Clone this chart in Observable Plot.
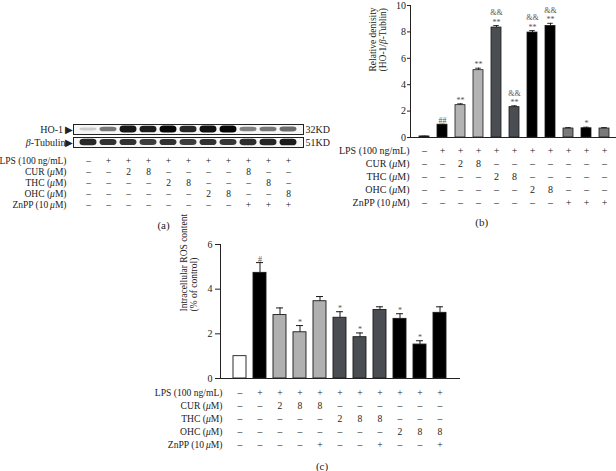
<!DOCTYPE html>
<html>
<head>
<meta charset="utf-8">
<script src="https://cdn.jsdelivr.net/npm/d3@7"></script>
<script src="https://cdn.jsdelivr.net/npm/@observablehq/plot@0.6"></script>
<style>
  html, body { margin: 0; padding: 0; background: #fff; }
  #fig { position: relative; width: 616px; height: 471px; overflow: hidden; background: #fff; font-family: "Liberation Serif", serif; }
  .cap { position: absolute; font-family: "Liberation Serif", serif; font-size: 11px; color: #222; transform: translate(-50%, -50%); }
</style>
</head>
<body>
<div id="fig"></div>
<script>
// ---------------- DATA ----------------
const lanes = [1, 2, 3, 4, 5, 6, 7, 8, 9, 10, 11];
const rowLabels = ["LPS (100 ng/mL)", "CUR (μM)", "THC (μM)", "OHC (μM)", "ZnPP (10\u2009μM)"];

// Panel (a): western blot
const blotRows = ["HO-1 ▶", "β-Tubulin▶"];
const blotKD = ["32KD", "51KD"];
const hoBand = [0.12, 0.5, 0.92, 0.9, 1.0, 0.85, 0.95, 1.0, 0.45, 0.5, 0.55];
const tubBand = [0.85, 0.8, 0.8, 0.75, 0.8, 0.75, 0.8, 0.78, 0.82, 0.85, 0.9];
const tableA = [
  ["–","+","+","+","+","+","+","+","+","+","+"],
  ["–","–","2","8","–","–","–","–","8","–","–"],
  ["–","–","–","–","2","8","–","–","–","8","–"],
  ["–","–","–","–","–","–","2","8","–","–","8"],
  ["–","–","–","–","–","–","–","–","+","+","+"]
];

// Panel (b): relative density HO-1/β-Tubulin
const densityB = [0.08, 0.97, 2.45, 5.1, 8.33, 2.3, 7.95, 8.45, 0.68, 0.7, 0.68];
const densityErrB = [0.02, 0.03, 0.1, 0.15, 0.15, 0.1, 0.15, 0.2, 0.07, 0.08, 0.07];
const groupB = ["Control", "LPS", "CUR", "CUR", "THC", "THC", "OHC", "OHC", "ZnPP-a", "ZnPP-b", "ZnPP-c"];
const sigB = ["", "##", "**", "**", "&&\n**", "&&\n**", "&&\n**", "&&\n**", "", "*", ""];
const ticksB = [0, 2, 4, 6, 8, 10];
const tableB = [
  ["–","+","+","+","+","+","+","+","+","+","+"],
  ["–","–","2","8","–","–","–","–","–","–","–"],
  ["–","–","–","–","2","8","–","–","–","–","–"],
  ["–","–","–","–","–","–","2","8","–","–","–"],
  ["–","–","–","–","–","–","–","–","+","+","+"]
];

// Panel (c): intracellular ROS content
const rosC = [1.0, 4.73, 2.84, 2.07, 3.46, 2.72, 1.85, 3.07, 2.67, 1.52, 2.94];
const rosErrC = [0, 0.46, 0.32, 0.3, 0.21, 0.27, 0.19, 0.14, 0.23, 0.17, 0.27];
const groupC = ["Control", "LPS", "CUR", "CUR", "CUR", "THC", "THC", "THC", "OHC", "OHC", "OHC"];
const sigC = ["", "#", "", "*", "", "*", "*", "", "*", "*", ""];
const ticksC = [0, 2, 4, 6];
const tableC = [
  ["–","+","+","+","+","+","+","+","+","+","+"],
  ["–","–","2","8","8","–","–","–","–","–","–"],
  ["–","–","–","–","–","2","8","8","–","–","–"],
  ["–","–","–","–","–","–","–","–","2","8","8"],
  ["–","–","–","–","+","–","–","+","–","–","+"]
];

// ---------------- HELPERS ----------------
const fig = document.getElementById("fig");
const baseStyle = {fontFamily: "Liberation Serif, serif", fontSize: "10px", color: "#111", background: "none", overflow: "visible"};

function place(el, left, top) {
  el.style.position = "absolute";
  el.style.left = left + "px";
  el.style.top = top + "px";
  italicize(el);
  fig.appendChild(el);
}
function italicize(svg) {
  const walker = document.createTreeWalker(svg, NodeFilter.SHOW_TEXT);
  const nodes = [];
  while (walker.nextNode()) if (/[βμ]/.test(walker.currentNode.nodeValue)) nodes.push(walker.currentNode);
  for (const n of nodes) {
    const parts = n.nodeValue.split(/([βμ])/);
    const frag = document.createDocumentFragment();
    for (const p of parts) {
      if (!p) continue;
      if (p === "β" || p === "μ") {
        const t = document.createElementNS("http://www.w3.org/2000/svg", "tspan");
        t.setAttribute("font-style", "italic");
        t.textContent = p;
        frag.appendChild(t);
      } else frag.appendChild(document.createTextNode(p));
    }
    n.parentNode.replaceChild(frag, n);
  }
}
function caption(text, x, y) {
  const d = document.createElement("div");
  d.className = "cap";
  d.style.left = x + "px";
  d.style.top = y + "px";
  d.textContent = text;
  fig.appendChild(d);
}
function tableCells(table) {
  const out = [];
  table.forEach((row, r) => row.forEach((t, i) => out.push({row: rowLabels[r], lane: lanes[i], t})));
  return out;
}
function tablePlot(table, o) {
  return Plot.plot({
    width: o.width, height: o.height,
    marginLeft: o.marginLeft, marginRight: o.marginRight, marginTop: 0, marginBottom: 0,
    style: baseStyle,
    x: {...o.x, axis: null},
    y: {type: "band", domain: rowLabels, padding: 0, axis: null},
    marks: [
      Plot.text(tableCells(table), {x: "lane", y: "row", text: "t", fontSize: o.fontSize, fill: "#222"}),
      Plot.axisY({tickSize: 0, tickPadding: o.tickPadding, dx: o.labelDx || 0, label: null, fontSize: o.fontSize, fill: "#222"})
    ]
  });
}

// ---------------- PANEL (a) ----------------
const blotData = [
  ...lanes.map((lane, i) => ({lane, row: blotRows[0], v: hoBand[i]})),
  ...lanes.map((lane, i) => ({lane, row: blotRows[1], v: tubBand[i]}))
];
const xA = {type: "band", domain: lanes, paddingInner: 0, paddingOuter: 0.1};
const blot = Plot.plot({
  width: 316, height: 32, marginLeft: 73, marginRight: 13, marginTop: 3, marginBottom: 4,
  style: baseStyle,
  x: {...xA, axis: null},
  y: {domain: [-1, 1], axis: null},
  fy: {domain: blotRows, padding: 0.2, axis: null},
  color: {type: "linear", domain: [0, 1], range: ["#e6e6e6", "#050505"]},
  marks: [
    Plot.frame({fill: "#f6f6f6", stroke: null}),
    Plot.barY(blotData, {x: "lane", fy: "row", y1: d => -(0.22 + 0.5 * d.v), y2: d => 0.22 + 0.5 * d.v,
      fill: "v", insetLeft: 1.5, insetRight: 1.5, rx: 4, imageFilter: "blur(0.7px)"}),
    Plot.frame({stroke: "#222", strokeWidth: 1}),
    Plot.axisFy({anchor: "left", tickSize: 0, tickPadding: 0, label: null, fontSize: 10, fill: "#222"}),
    Plot.axisFy({anchor: "right", tickSize: 0, tickPadding: 2, label: null, fontSize: 10, fill: "#222",
      tickFormat: d => blotKD[blotRows.indexOf(d)]})
  ]
});
place(blot, 0, 120);
place(tablePlot(tableA, {width: 316, height: 58, marginLeft: 73, marginRight: 13, x: xA, fontSize: 9.5, tickPadding: 7}), 0, 153);
caption("(a)", 163.5, 225);

// ---------------- PANEL (b) ----------------
const dataB = lanes.map((lane, i) => ({lane, v: densityB[i], e: densityErrB[i], g: groupB[i], s: sigB[i]}));
const xB = {type: "band", domain: lanes, range: [112.5, 316.2], paddingInner: 0.45, paddingOuter: 0.3};
const plotB = Plot.plot({
  width: 316, height: 140, marginLeft: 110, marginRight: 0, marginTop: 5, marginBottom: 3,
  style: baseStyle,
  x: {...xB, axis: null},
  y: {domain: [0, 10], axis: null},
  color: {domain: ["Control", "LPS", "CUR", "THC", "OHC", "ZnPP-a", "ZnPP-b", "ZnPP-c"],
          range: ["#2e2e2e", "#000000", "#b3b3b3", "#4a4d51", "#000000", "#7a7a7a", "#000000", "#7a7a7a"]},
  marks: [
    Plot.barY(dataB, {x: "lane", y: "v", fill: "g", stroke: "#1a1a1a", strokeWidth: 0.8}),
    Plot.ruleX(dataB, {x: "lane", y1: "v", y2: d => d.v + d.e, stroke: "#1a1a1a", strokeWidth: 0.9}),
    Plot.tickY(dataB, {x: "lane", y: d => d.v + d.e, insetLeft: 2.2, insetRight: 2.2, stroke: "#1a1a1a", strokeWidth: 0.9}),
    Plot.text(dataB, {x: "lane", y: d => d.v + d.e, text: "s", lineAnchor: "bottom", dy: -1, fontSize: 8, lineHeight: 1.15, fill: "#555"}),
    Plot.ruleY([0], {stroke: "#222", strokeWidth: 1}),
    Plot.frame({anchor: "left", stroke: "#222", strokeWidth: 1}),
    Plot.axisY({ticks: ticksB, tickFormat: d => String(d), tickSize: 3, tickPadding: 1.5, label: null, fontSize: 10, stroke: "#222", fill: "#222"}),
    Plot.text(["Relative denisity\n(HO-1/β-Tublin)"], {frameAnchor: "left", rotate: -90, dx: -33, fontSize: 9.5, lineHeight: 1.05, fill: "#222"})
  ]
});
place(plotB, 300, 0);
place(tablePlot(tableB, {width: 316, height: 65, marginLeft: 110, marginRight: 0, x: xB, fontSize: 10, tickPadding: 1}), 300, 144);
caption("(b)", 481.7, 221.7);

// ---------------- PANEL (c) ----------------
const dataC = lanes.map((lane, i) => ({lane, v: rosC[i], e: rosErrC[i], g: groupC[i], s: sigC[i]}));
const xC = {type: "band", domain: lanes, paddingInner: 0.34, paddingOuter: 0.44};
const plotC = Plot.plot({
  width: 330, height: 146, marginLeft: 80, marginRight: 10, marginTop: 8, marginBottom: 4,
  style: baseStyle,
  x: {...xC, axis: null},
  y: {domain: [0, 6], axis: null},
  color: {domain: ["Control", "LPS", "CUR", "THC", "OHC"],
          range: ["#ffffff", "#000000", "#b0b0b0", "#4a4d51", "#000000"]},
  marks: [
    Plot.barY(dataC, {x: "lane", y: "v", fill: "g", stroke: "#1a1a1a", strokeWidth: 0.9}),
    Plot.ruleX(dataC.filter(d => d.e > 0), {x: "lane", y1: "v", y2: d => d.v + d.e, stroke: "#1a1a1a", strokeWidth: 1}),
    Plot.tickY(dataC.filter(d => d.e > 0), {x: "lane", y: d => d.v + d.e, insetLeft: 3, insetRight: 3, stroke: "#1a1a1a", strokeWidth: 1}),
    Plot.text(dataC, {x: "lane", y: d => d.v + d.e, text: "s", lineAnchor: "bottom", dy: -1, fontSize: 8, fill: "#555"}),
    Plot.ruleY([0], {stroke: "#222", strokeWidth: 1}),
    Plot.frame({anchor: "left", stroke: "#222", strokeWidth: 1}),
    Plot.axisY({ticks: ticksC, tickFormat: d => String(d), tickSize: 5, tickPadding: 3, label: null, fontSize: 10, stroke: "#222", fill: "#222"}),
    Plot.text(["Intracellular ROS content\n(% of control)"], {frameAnchor: "left", rotate: -90, dx: -32, fontSize: 9.5, lineHeight: 1.1, fill: "#222"})
  ]
});
place(plotC, 140, 236);
place(tablePlot(tableC, {width: 330, height: 68, marginLeft: 80, marginRight: 10, x: xC, fontSize: 9.6, tickPadding: 0, labelDx: 2}), 140, 384);
caption("(c)", 322, 465.5);
</script>
</body>
</html>
